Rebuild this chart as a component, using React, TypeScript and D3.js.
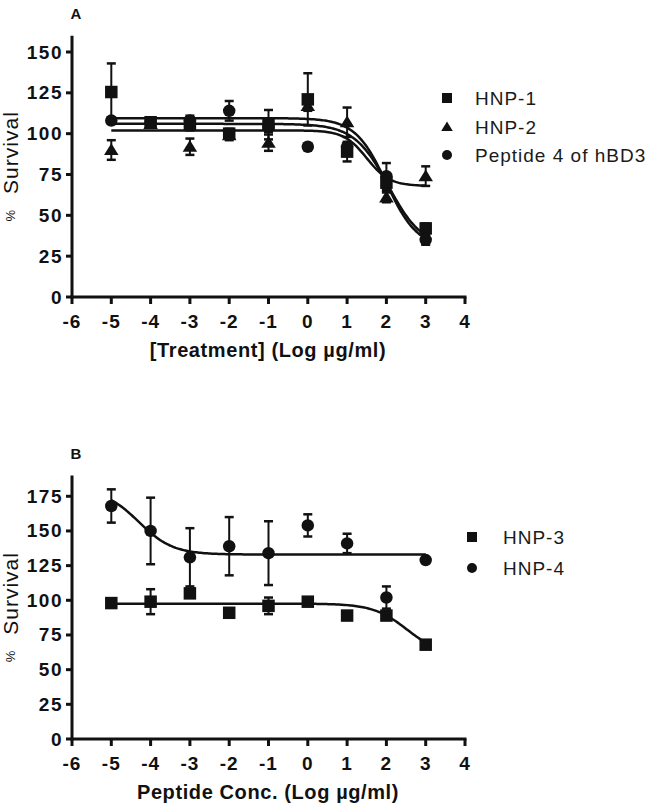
import React from 'react';
import * as d3 from 'd3';

// ---------- data ----------
const doses = [-5, -4, -3, -2, -1, 0, 1, 2, 3];
const xTicks = [-6, -5, -4, -3, -2, -1, 0, 1, 2, 3, 4];
const yTicksA = [0, 25, 50, 75, 100, 125, 150];
const yTicksB = [0, 25, 50, 75, 100, 125, 150, 175];

// Panel A
const hnp1Mean = [125.5, 107, 106, 100, 105.5, 121, 89, 70, 42];
const hnp1Sem = [17.5, 3, 4, 3, 9, 16, 6, 5, 3];
const hnp1Fit = [106, 30, 2.05, 1.0]; // top, bottom, logEC50, hill

const hnp2Mean = [90, 106, 92, 99, 94.5, 117, 107, 61, 74];
const hnp2Sem = [6, 2, 5, 3, 5, 3, 9, 3, 6];
const hnp2Fit = [102, 68, 1.5, 1.5];

const pep4Mean = [108, 107, 108, 114, 104, 92, 92, 74, 35];
const pep4Sem = [2, 2, 3, 6, 3, 1, 2, 8, 3];
const pep4Fit = [109.5, 30, 2.0, 1.1];

// Panel B
const hnp3Mean = [98, 99, 105, 91, 96, 99, 89, 89, 68];
const hnp3Sem = [2, 9, 2, 2, 6, 1, 1, 3, 1];
const hnp3Fit = [97.6, 60, 2.53, 1.0];

const hnp4Mean = [168, 150, 131, 139, 134, 154, 141, 102, 129];
const hnp4Sem = [12, 24, 21, 21, 23, 8, 7, 8, 2];
const hnp4Fit = [180, 133, -4.3, 1.0];

const legendA = ['HNP-1', 'HNP-2', 'Peptide 4 of hBD3'];
const legendB = ['HNP-3', 'HNP-4'];

// ---------- helpers ----------
const FONT = '"Liberation Sans", Arial, Helvetica, sans-serif';
const INK = '#111';

const fourPL = (p: number[]) => (x: number) =>
  p[1] + (p[0] - p[1]) / (1 + Math.pow(10, (x - p[2]) * p[3]));

type Shape = 'square' | 'triangle' | 'circle';

function Marker({ shape, cx, cy, s }: { shape: Shape; cx: number; cy: number; s: number }) {
  if (shape === 'square')
    return <rect x={cx - s / 2} y={cy - s / 2} width={s} height={s} fill={INK} />;
  if (shape === 'triangle') {
    const h = s * 0.9;
    return (
      <polygon
        points={`${cx},${cy - h * 0.6} ${cx - s * 0.58},${cy + h * 0.45} ${cx + s * 0.58},${cy + h * 0.45}`}
        fill={INK}
      />
    );
  }
  return <circle cx={cx} cy={cy} r={s / 2} fill={INK} />;
}

type Series = { mean: number[]; sem: number[]; fit: number[]; shape: Shape };

function Panel({
  y0, y1, ymax, yTicks, series, label, xTitle, legend, legendX, legendY, legendTextX,
}: {
  y0: number; y1: number; ymax: number; yTicks: number[]; series: Series[]; label: string;
  xTitle: string; legend: string[]; legendX: number; legendY: number[]; legendTextX: number;
}) {
  const x = d3.scaleLinear().domain([-6, 4]).range([72, 465]);
  const y = d3.scaleLinear().domain([0, ymax]).range([y0, y1]);
  const curveXs = d3.range(-5, 3.0001, 0.04);
  const plotMid = (y(0) + y(ymax)) / 2;
  return (
    <g>
      <text x={76} y={y(ymax) - 22} fontFamily={FONT} fontWeight="bold" fontSize={15}
        textAnchor="middle" dominantBaseline="central" fill={INK}>{label}</text>
      {/* axes */}
      <line x1={x(-6)} x2={x(-6)} y1={y(ymax)} y2={y(0) + 1.5} stroke={INK} strokeWidth={3} />
      <line x1={x(-6) - 1.5} x2={x(4) + 1.5} y1={y(0)} y2={y(0)} stroke={INK} strokeWidth={3} />
      {yTicks.map((t) => (
        <g key={'y' + t}>
          <line x1={x(-6) - 6} x2={x(-6)} y1={y(t)} y2={y(t)} stroke={INK} strokeWidth={3} />
          <text x={63} y={y(t)} fontFamily={FONT} fontWeight="bold" fontSize={19}
            letterSpacing={1.5} textAnchor="end" dominantBaseline="central" fill={INK}>{t}</text>
        </g>
      ))}
      {xTicks.map((t) => (
        <g key={'x' + t}>
          <line x1={x(t)} x2={x(t)} y1={y(0)} y2={y(0) + 7} stroke={INK} strokeWidth={3} />
          <text x={x(t)} y={y(0) + 24} fontFamily={FONT} fontWeight="bold" fontSize={19}
            letterSpacing={1} textAnchor="middle" dominantBaseline="central" fill={INK}>{t}</text>
        </g>
      ))}
      <text x={268} y={y(0) + 53} fontFamily={FONT} fontWeight="bold" fontSize={20}
        letterSpacing={0.6} textAnchor="middle" dominantBaseline="central" fill={INK}>{xTitle}</text>
      {/* y title */}
      <g transform={`translate(10,${plotMid}) rotate(-90)`}>
        <text x={0} y={0} fontFamily={FONT} textAnchor="middle" dominantBaseline="central" fill={INK}>
          <tspan fontSize={13}>%</tspan>
          <tspan fontSize={21} dx={16} letterSpacing={1}>Survival</tspan>
        </text>
      </g>
      {/* curves */}
      {series.map((s, i) => {
        const f = fourPL(s.fit);
        const path = d3.line<number>().x((d) => x(d)).y((d) => y(f(d)))(curveXs) || '';
        return <path key={'c' + i} d={path} fill="none" stroke={INK} strokeWidth={2.5} />;
      })}
      {/* error bars + markers */}
      {series.map((s, i) => (
        <g key={'s' + i}>
          {doses.map((d, j) => {
            const cx = x(d);
            const hi = y(s.mean[j] + s.sem[j]);
            const lo = y(s.mean[j] - s.sem[j]);
            return (
              <g key={j}>
                <line x1={cx} x2={cx} y1={hi} y2={lo} stroke={INK} strokeWidth={2} />
                <line x1={cx - 4.5} x2={cx + 4.5} y1={hi} y2={hi} stroke={INK} strokeWidth={2.5} />
                <line x1={cx - 4.5} x2={cx + 4.5} y1={lo} y2={lo} stroke={INK} strokeWidth={2.5} />
                <Marker shape={s.shape} cx={cx} cy={y(s.mean[j])} s={12.5} />
              </g>
            );
          })}
        </g>
      ))}
      {/* legend */}
      {legend.map((name, i) => (
        <g key={'l' + i}>
          <Marker shape={series[i].shape} cx={legendX} cy={legendY[i]} s={10} />
          <text x={legendTextX} y={legendY[i]} fontFamily={FONT} fontSize={19} letterSpacing={1}
            dominantBaseline="central" fill="#1a1a1a">{name}</text>
        </g>
      ))}
    </g>
  );
}

export default function App() {
  const seriesA: Series[] = [
    { mean: hnp1Mean, sem: hnp1Sem, fit: hnp1Fit, shape: 'square' },
    { mean: hnp2Mean, sem: hnp2Sem, fit: hnp2Fit, shape: 'triangle' },
    { mean: pep4Mean, sem: pep4Sem, fit: pep4Fit, shape: 'circle' },
  ];
  const seriesB: Series[] = [
    { mean: hnp3Mean, sem: hnp3Sem, fit: hnp3Fit, shape: 'square' },
    { mean: hnp4Mean, sem: hnp4Sem, fit: hnp4Fit, shape: 'circle' },
  ];
  return (
    <svg width={651} height={804} style={{ position: 'absolute', left: 0, top: 0, background: '#fff' }}>
      <rect width={651} height={804} fill="#fff" />
      <Panel y0={297} y1={297 - (160 * 245) / 150} ymax={160} yTicks={yTicksA} series={seriesA}
        label="A" xTitle="[Treatment] (Log µg/ml)" legend={legendA}
        legendX={447} legendY={[98, 127, 155]} legendTextX={475} />
      <Panel y0={739} y1={739 - 190 * 1.387} ymax={190} yTicks={yTicksB} series={seriesB}
        label="B" xTitle="Peptide Conc. (Log µg/ml)" legend={legendB}
        legendX={472} legendY={[537, 568]} legendTextX={503} />
    </svg>
  );
}
